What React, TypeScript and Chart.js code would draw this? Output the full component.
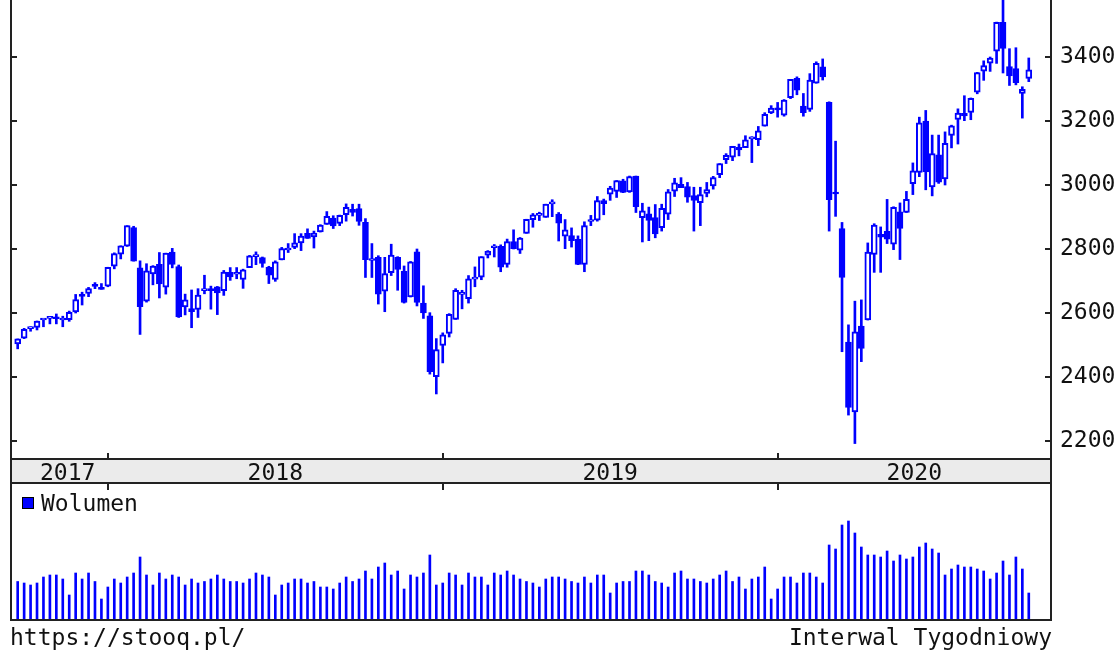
import React, { useEffect, useRef } from 'react';
import { Chart, registerables } from 'chart.js';

Chart.register(...registerables);

// ---- Data (weekly candles, first week ends 2017-09-29) ----
const FIRST_WEEK_END = Date.UTC(2017, 8, 29);

const opens = [
  2503, 2521, 2551, 2555, 2578, 2583, 2588, 2578, 2579, 2603, 2657, 2661, 2686, 2679,
  2684, 2746, 2784, 2809, 2867, 2741, 2637, 2722, 2752, 2681, 2790, 2745, 2619, 2614, 2611, 2670, 2675, 2682, 2670, 2727, 2721, 2705,
  2742, 2776, 2773, 2743, 2705, 2766, 2797, 2805, 2819, 2849, 2838, 2853, 2877, 2897, 2880, 2907, 2924, 2926, 2883, 2764, 2774, 2668,
  2726, 2774, 2730, 2650, 2791, 2631, 2591, 2401,
  2499, 2536, 2580, 2658, 2645, 2706, 2712, 2781, 2804, 2808, 2752, 2823, 2796, 2849, 2892, 2905, 2899, 2941, 2909, 2840, 2842, 2830,
  2752, 2886, 2890, 2951, 2971, 2980, 3013, 2978, 3028, 2898, 2910, 2898, 2867, 2909, 2981, 3002, 2995, 2967, 2945, 2974, 2997, 3032,
  3079, 3087, 3118, 3117, 3144, 3142, 3184, 3225,
  3240, 3218, 3273, 3333, 3247, 3236, 3318, 3369, 3258, 2974, 2864, 2509, 2291, 2559, 2578, 2783, 2846, 2855, 2815, 2916, 2914, 3004,
  3039, 3200, 2994, 3094, 3019, 3155, 3205, 3224, 3227, 3290, 3356, 3381, 3418, 3508, 3370, 3364, 3286, 3333,
];

const highs = [
  2519, 2552, 2557, 2575, 2582, 2588, 2597, 2590, 2606, 2658, 2665, 2680, 2695, 2692,
  2743, 2788, 2810, 2873, 2871, 2763, 2754, 2748, 2789, 2787, 2802, 2750, 2659, 2672, 2676, 2718, 2684, 2683, 2733, 2742, 2742, 2737,
  2780, 2791, 2775, 2746, 2763, 2805, 2817, 2848, 2848, 2863, 2856, 2876, 2917, 2904, 2906, 2941, 2940, 2940, 2895, 2817, 2779, 2774,
  2815, 2776, 2747, 2761, 2800, 2685, 2601, 2520,
  2538, 2598, 2676, 2671, 2717, 2744, 2776, 2795, 2814, 2813, 2831, 2860, 2836, 2893, 2911, 2915, 2940, 2954, 2914, 2892, 2866, 2841,
  2885, 2905, 2964, 2956, 2996, 3014, 3018, 3028, 3028, 2943, 2931, 2939, 2940, 2986, 3021, 3023, 3008, 2993, 2993, 3008, 3027, 3067,
  3098, 3121, 3128, 3154, 3151, 3183, 3226, 3248,
  3258, 3267, 3330, 3338, 3286, 3348, 3385, 3394, 3260, 3137, 2883, 2563, 2637, 2641, 2819, 2879, 2869, 2955, 2932, 2944, 2980, 3069,
  3212, 3233, 3156, 3156, 3166, 3187, 3238, 3279, 3272, 3352, 3388, 3400, 3509, 3588, 3426, 3429, 3307, 3397,
];

const lows = [
  2488, 2520, 2543, 2547, 2557, 2566, 2566, 2557, 2574, 2600, 2625, 2651, 2676, 2674,
  2682, 2738, 2769, 2808, 2762, 2533, 2634, 2688, 2647, 2659, 2741, 2586, 2594, 2554, 2586, 2660, 2612, 2595, 2655, 2702, 2707, 2677,
  2742, 2751, 2743, 2692, 2699, 2766, 2789, 2801, 2795, 2833, 2803, 2853, 2877, 2864, 2873, 2887, 2903, 2874, 2711, 2711, 2628, 2604,
  2717, 2671, 2631, 2650, 2622, 2583, 2409, 2347,
  2444, 2525, 2580, 2613, 2631, 2682, 2704, 2772, 2775, 2729, 2743, 2800, 2786, 2849, 2868, 2889, 2899, 2901, 2825, 2801, 2806, 2751,
  2729, 2873, 2887, 2907, 2952, 2961, 2976, 2977, 2914, 2822, 2826, 2835, 2856, 2892, 2964, 2992, 2946, 2856, 2873, 2963, 2987, 3023,
  3067, 3076, 3091, 3117, 3070, 3123, 3184, 3223,
  3212, 3215, 3270, 3282, 3215, 3230, 3318, 3328, 2856, 2902, 2479, 2281, 2192, 2448, 2578, 2727, 2727, 2817, 2798, 2767, 2914, 2970,
  3026, 2985, 2966, 3005, 3000, 3116, 3128, 3201, 3204, 3285, 3327, 3355, 3380, 3350, 3311, 3313, 3209, 3323,
];

const closes = [
  2519, 2549, 2553, 2575, 2581, 2588, 2582, 2579, 2602, 2642, 2652, 2676, 2683, 2674,
  2743, 2786, 2810, 2873, 2762, 2620, 2732, 2747, 2691, 2787, 2752, 2588, 2641, 2604, 2656, 2670, 2670, 2663, 2728, 2713, 2721, 2735,
  2779, 2779, 2755, 2718, 2760, 2801, 2802, 2819, 2840, 2833, 2850, 2875, 2902, 2872, 2905, 2930, 2914, 2886, 2767, 2768, 2659, 2723,
  2781, 2736, 2633, 2760, 2633, 2600, 2417, 2486,
  2532, 2596, 2671, 2665, 2707, 2708, 2776, 2793, 2804, 2743, 2823, 2801, 2834, 2893, 2907, 2905, 2940, 2946, 2881, 2860, 2826, 2752,
  2873, 2887, 2951, 2942, 2990, 3014, 2977, 3026, 2932, 2919, 2889, 2847, 2927, 2979, 3007, 2992, 2962, 2952, 2970, 2986, 3023, 3067,
  3093, 3121, 3110, 3141, 3146, 3169, 3221, 3240,
  3235, 3265, 3330, 3296, 3226, 3328, 3380, 3338, 2954, 2972, 2711, 2305, 2541, 2489, 2790, 2875, 2837, 2831, 2930, 2864, 2955, 3044,
  3194, 3041, 3098, 3009, 3130, 3185, 3225, 3216, 3271, 3351, 3373, 3397, 3508, 3427, 3341, 3320, 3299, 3360,
];

// relative weekly volume
const volumes = [
  37.5, 36, 34, 36, 42, 44, 44, 40, 24, 46, 40, 46, 37.5, 20,
  32, 40, 36, 42, 46, 62, 44, 34, 46, 40, 44, 42, 34, 40, 36, 37.5, 40, 44, 40, 37.5, 37.5, 36, 40, 46, 44, 42, 24, 34, 36, 40, 40, 36,
  37.5, 32, 32, 30, 36, 42, 37.5, 40, 48, 40, 52, 56, 44, 48, 30, 44, 42, 46, 64, 34,
  36, 46, 44, 34, 46, 42, 42, 34, 46, 44, 48, 44, 40, 37.5, 36, 32, 40, 42, 42, 40, 37.5, 36, 42, 36, 44, 44, 26, 36, 37.5, 37.5,
  48, 48, 44, 37.5, 36, 32, 46, 48, 40, 40, 37.5, 36, 40, 44, 48, 37.5, 42, 30, 40, 42, 52, 20,
  30, 42, 42, 36, 46, 46, 42, 36, 74, 70, 94, 98, 86, 72, 64, 64, 62, 68, 58, 64, 60, 62, 72, 76, 70, 66, 44, 50, 54, 52, 52, 50,
  48, 40, 46, 58, 44, 62, 50, 26,
];

const PRICE_STEP = 200;
const VOLUME_LABEL = 'Wolumen';
const SOURCE_TEXT = 'https://stooq.pl/';
const INTERVAL_TEXT = 'Interwal Tygodniowy';

const weekEnds = opens.map((_, i) =>
  new Date(FIRST_WEEK_END + i * 7 * 86400000).toISOString().slice(0, 10)
);

// ---- Style ----
const BLUE = '#0000ff';
const FRAME = '#222222';
const TEXT = '#111111';
const FONT_FAMILY = '"DejaVu Sans Mono", monospace';
const FONT = `23px ${FONT_FAMILY}`;
const X_MIN = -1.04;
const X_MAX = 160.45;

const framePlugin = {
  id: 'stooqFrame',
  afterDraw(chart: any) {
    const { ctx, chartArea: a, scales } = chart;
    const xs = scales.x;
    const ys = scales.y;
    const bandTop = a.bottom;
    const bandBot = a.bottom + 24;
    const volBot = a.bottom + 161;
    ctx.save();
    // date band
    ctx.fillStyle = '#ebebeb';
    ctx.fillRect(a.left, bandTop, a.right - a.left, bandBot - bandTop);
    ctx.strokeStyle = FRAME;
    ctx.lineWidth = 2;
    ctx.beginPath();
    ctx.moveTo(a.left, bandTop); ctx.lineTo(a.right, bandTop);
    ctx.moveTo(a.left, bandBot); ctx.lineTo(a.right, bandBot);
    ctx.moveTo(a.left - 1, volBot); ctx.lineTo(a.right + 1, volBot);
    ctx.moveTo(a.left, a.top); ctx.lineTo(a.left, volBot);
    ctx.moveTo(a.right, a.top); ctx.lineTo(a.right, volBot);
    ctx.stroke();
    // inward price ticks
    ctx.beginPath();
    ys.ticks.forEach((t: any) => {
      const py = Math.round(ys.getPixelForValue(t.value));
      ctx.moveTo(a.left, py); ctx.lineTo(a.left + 6, py);
      ctx.moveTo(a.right - 6, py); ctx.lineTo(a.right, py);
    });
    // year boundaries
    const years = weekEnds.map((d) => d.slice(0, 4));
    const segs: { year: string; start: number; end: number }[] = [];
    years.forEach((yr, i) => {
      if (i === 0 || yr !== years[i - 1]) {
        if (segs.length) segs[segs.length - 1].end = i;
        segs.push({ year: yr, start: i, end: years.length });
      }
    });
    segs.forEach((s, k) => {
      if (k === 0) return;
      const px = Math.round(xs.getPixelForValue(s.start));
      ctx.moveTo(px, bandTop - 6); ctx.lineTo(px, bandTop);
      ctx.moveTo(px, bandBot); ctx.lineTo(px, bandBot + 7);
    });
    ctx.stroke();
    // year labels
    ctx.font = FONT;
    ctx.fillStyle = TEXT;
    ctx.textAlign = 'center';
    ctx.textBaseline = 'alphabetic';
    segs.forEach((s, k) => {
      const x0 = k === 0 ? a.left : xs.getPixelForValue(s.start);
      const x1 = k === segs.length - 1 ? a.right : xs.getPixelForValue(segs[k + 1].start);
      const w = ctx.measureText(s.year).width;
      let cx = (x0 + x1) / 2;
      cx = Math.max(cx, a.left + 29 + w / 2);
      cx = Math.min(cx, a.right - 29 - w / 2);
      ctx.fillText(s.year, cx, bandTop + 20.5);
    });
    // footer texts
    ctx.textAlign = 'left';
    ctx.fillText(SOURCE_TEXT, a.left - 1, a.bottom + 185.5);
    ctx.textAlign = 'right';
    ctx.fillText(INTERVAL_TEXT, a.right + 1, a.bottom + 185.5);
    ctx.restore();
  },
};

const legendPlugin = {
  id: 'volLegend',
  afterDraw(chart: any) {
    const { ctx } = chart;
    const label = chart.data.datasets[0].label;
    ctx.save();
    ctx.fillStyle = BLUE;
    ctx.fillRect(22, 13, 12, 12);
    ctx.strokeStyle = '#000';
    ctx.lineWidth = 1;
    ctx.strokeRect(22.5, 13.5, 11, 11);
    ctx.font = FONT;
    ctx.fillStyle = TEXT;
    ctx.textAlign = 'left';
    ctx.textBaseline = 'alphabetic';
    ctx.fillText(label, 41, 27);
    ctx.restore();
  },
};

function priceConfig(): any {
  return {
    type: 'bar',
    data: {
      datasets: [
        {
          label: 'Korpus',
          data: opens.map((o, i) => ({ x: i, y: [o, closes[i]] })),
          backgroundColor: opens.map((o, i) => (closes[i] >= o ? '#ffffff' : BLUE)),
          borderColor: BLUE,
          borderWidth: 2,
          borderSkipped: false,
          barThickness: 6,
          minBarLength: 2,
          grouped: false,
          order: 0,
        },
        {
          label: 'Cień',
          data: lows.map((l, i) => ({ x: i, y: [l, highs[i]] })),
          backgroundColor: BLUE,
          borderWidth: 0,
          barThickness: 2,
          grouped: false,
          order: 1,
        },
      ],
    },
    options: {
      responsive: false,
      animation: false,
      devicePixelRatio: 1,
      layout: { padding: { left: 11, right: 0, top: 0, bottom: 192 }, autoPadding: false },
      plugins: { legend: { display: false }, tooltip: { enabled: false } },
      scales: {
        x: { type: 'linear', min: X_MIN, max: X_MAX, display: false, offset: false },
        y: {
          type: 'linear',
          position: 'right',
          min: 2143.75,
          max: 3700,
          grid: { display: false, drawTicks: false },
          border: { display: false },
          ticks: {
            stepSize: PRICE_STEP,
            includeBounds: false,
            padding: 9,
            color: TEXT,
            font: { family: FONT_FAMILY, size: 23 },
            callback: (v: any) => String(v),
          },
          afterFit: (s: any) => {
            s.width = 66;
            s.paddingTop = 0;
            s.paddingBottom = 0;
          },
        },
      },
    },
    plugins: [framePlugin],
  };
}

function volumeConfig(): any {
  return {
    type: 'bar',
    data: {
      datasets: [
        {
          label: VOLUME_LABEL,
          data: volumes.map((v, i) => ({ x: i, y: v })),
          backgroundColor: BLUE,
          borderWidth: 0,
          barThickness: 2,
        },
      ],
    },
    options: {
      responsive: false,
      animation: false,
      devicePixelRatio: 1,
      layout: { padding: { left: 11, right: 66, top: 0, bottom: 0 }, autoPadding: false },
      plugins: { legend: { display: false }, tooltip: { enabled: false } },
      scales: {
        x: { type: 'linear', min: X_MIN, max: X_MAX, display: false, offset: false },
        y: { type: 'linear', min: 0, max: 135, display: false },
      },
    },
    plugins: [legendPlugin],
  };
}

export default function App() {
  const priceRef = useRef<HTMLCanvasElement>(null);
  const volRef = useRef<HTMLCanvasElement>(null);

  useEffect(() => {
    const pc = new Chart(priceRef.current as HTMLCanvasElement, priceConfig());
    const vc = new Chart(volRef.current as HTMLCanvasElement, volumeConfig());
    return () => {
      pc.destroy();
      vc.destroy();
    };
  }, []);

  return (
    <div style={{ position: 'fixed', left: 0, top: 0, width: 1117, height: 651, background: '#ffffff', overflow: 'hidden' }}>
      <canvas
        ref={priceRef}
        width={1117}
        height={690}
        style={{ position: 'absolute', left: 0, top: -39, width: 1117, height: 690 }}
      />
      <canvas
        ref={volRef}
        width={1117}
        height={135}
        style={{ position: 'absolute', left: 0, top: 484, width: 1117, height: 135 }}
      />
    </div>
  );
}
